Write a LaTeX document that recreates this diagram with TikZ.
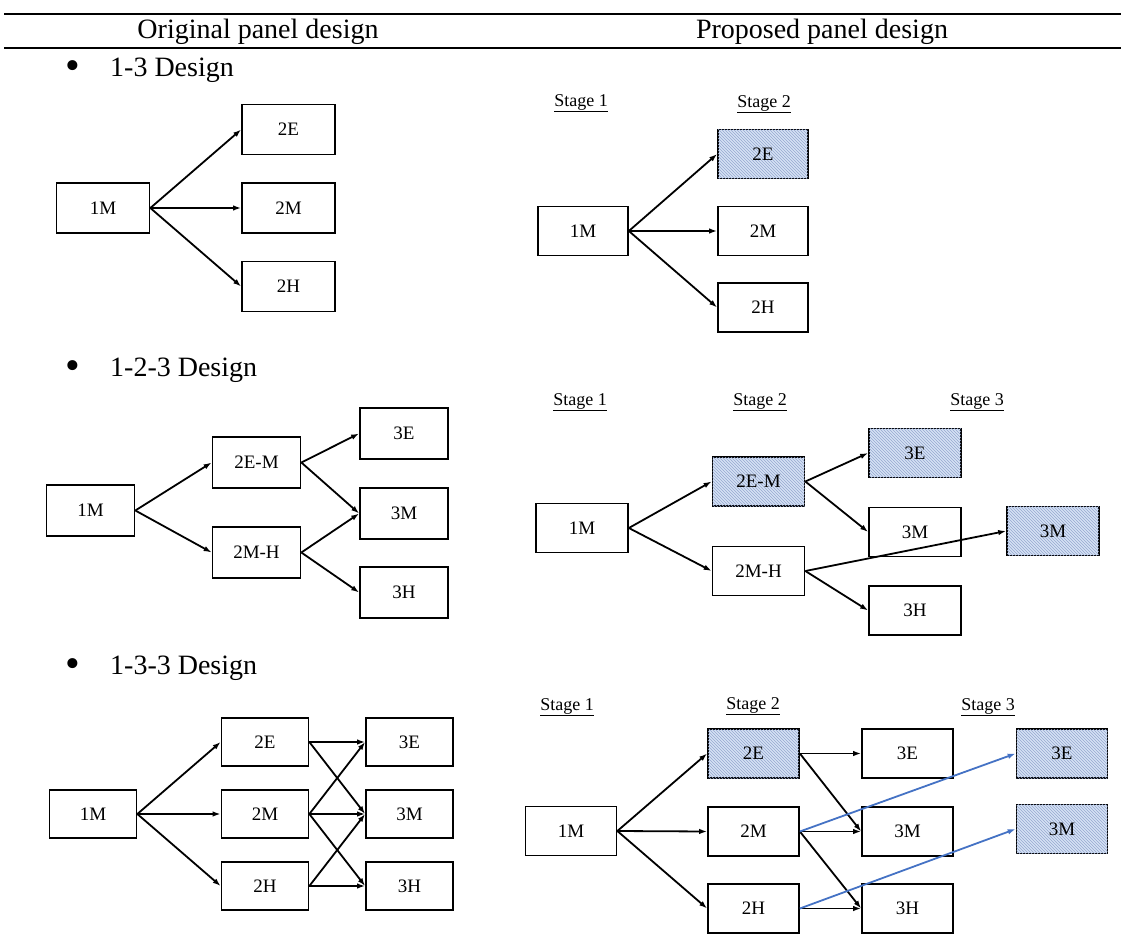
\documentclass[tikz,border=0pt]{standalone}
\usepackage{fontspec}
\setmainfont{Liberation Serif}
\usetikzlibrary{arrows.meta,patterns}
\definecolor{hatchbg}{RGB}{214,226,245}
\definecolor{hatchln}{RGB}{150,168,208}
\definecolor{bluearr}{RGB}{68,114,196}
\tikzset{
  box/.style={draw, line width=1.7pt, inner sep=0pt, fill=white,
    font=\fontsize{19}{19}\selectfont},
  hbox/.style={box, fill=hatchbg, postaction={pattern=north west lines, pattern color=hatchln}},
  arr/.style={line width=1.8pt, -{Latex[length=8pt,width=5.5pt]}},
  barr/.style={arr, draw=bluearr},
  stagelbl/.style={inner sep=0pt, font=\fontsize{18}{18}\selectfont},
  head/.style={inner sep=0pt, font=\fontsize{28}{28}\selectfont},
  bul/.style={inner sep=0pt, anchor=west, font=\fontsize{28}{28}\selectfont},
  dot/.style={inner sep=0pt, font=\fontsize{42}{42}\selectfont},
  rule/.style={line width=1.6pt}
}
\begin{document}
\begin{tikzpicture}[x=1pt,y=-1pt]
\useasboundingbox (0,0) rectangle (1121,941);
% header
\coordinate (r1a) at (4,14); \coordinate (r1b) at (1121,14);
\coordinate (r2a) at (4,48); \coordinate (r2b) at (1121,48);
\draw[rule] (r1a) -- (r1b);
\draw[rule] (r2a) -- (r2b);
\node[head] (h1) at (258,32) {Original panel design};
\node[head] (h2) at (822,32) {Proposed panel design};
% bullets
\node[dot] (d1) at (73,70) {•};
\node[bul] (b1) at (110,70) {1-3 Design};
\node[dot] (d2) at (73,370) {•};
\node[bul] (b2) at (110,370) {1-2-3 Design};
\node[dot] (d3) at (73,668) {•};
\node[bul] (b3) at (110,668) {1-3-3 Design};

% ---------- 1-3 left
\begin{scope}[every node/.append style={minimum width=93pt, minimum height=50pt}]
\node[box] (a1M) at (103,208) {1M};
\node[box] (a2E) at (288.5,129.5) {2E};
\node[box] (a2M) at (288.5,208) {2M};
\node[box] (a2H) at (288.5,286.5) {2H};
\end{scope}
\draw[arr] (a1M.east) -- (a2E.west);
\draw[arr] (a1M.east) -- (a2M.west);
\draw[arr] (a1M.east) -- (a2H.west);

% ---------- 1-3 right
\node[stagelbl] (s11) at (581,103) {\underline{Stage 1}};
\node[stagelbl] (s12) at (764,104) {\underline{Stage 2}};
\begin{scope}[every node/.append style={minimum width=90pt, minimum height=49pt}]
\node[box] (b1M) at (583,231) {1M};
\node[hbox] (b2E) at (763,154) {2E};
\node[box] (b2M) at (763,231) {2M};
\node[box] (b2H) at (763,307.5) {2H};
\end{scope}
\draw[arr] (b1M.east) -- (b2E.west);
\draw[arr] (b1M.east) -- (b2M.west);
\draw[arr] (b1M.east) -- (b2H.west);

% ---------- 1-2-3 left
\begin{scope}[every node/.append style={minimum width=88pt, minimum height=51pt}]
\node[box] (c1M) at (90.5,510.5) {1M};
\node[box] (c2EM) at (256.5,462.5) {2E-M};
\node[box] (c2MH) at (256.5,552.5) {2M-H};
\node[box] (c3E) at (404,433.5) {3E};
\node[box] (c3M) at (404,513.5) {3M};
\node[box] (c3H) at (404,592.5) {3H};
\end{scope}
\draw[arr] (c1M.east) -- (c2EM.west);
\draw[arr] (c1M.east) -- (c2MH.west);
\draw[arr] (c2EM.east) -- (c3E.west);
\draw[arr] (c2EM.east) -- (c3M.west);
\draw[arr] (c2MH.east) -- (c3M.west);
\draw[arr] (c2MH.east) -- (c3H.west);

% ---------- 1-2-3 right
\node[stagelbl] (s21) at (580,402) {\underline{Stage 1}};
\node[stagelbl] (s22) at (760,402) {\underline{Stage 2}};
\node[stagelbl] (s23) at (977,402) {\underline{Stage 3}};
\begin{scope}[every node/.append style={minimum width=92pt, minimum height=49pt}]
\node[box] (d1M) at (582,528) {1M};
\node[hbox] (d2EM) at (758.5,481.5) {2E-M};
\node[box] (d2MH) at (758.5,571) {2M-H};
\node[hbox] (d3E) at (915,453) {3E};
\node[box] (d3M) at (915,532) {3M};
\node[box] (d3H) at (915,610.5) {3H};
\node[hbox] (d3Mr) at (1053,531) {3M};
\end{scope}
\draw[arr] (d1M.east) -- (d2EM.west);
\draw[arr] (d1M.east) -- (d2MH.west);
\draw[arr] (d2EM.east) -- (d3E.west);
\draw[arr] (d2EM.east) -- (d3M.west);
\draw[arr] (d2MH.east) -- (d3H.west);
\draw[arr] (d2MH.east) -- (d3Mr.west);

% ---------- 1-3-3 left
\begin{scope}[every node/.append style={minimum width=87pt, minimum height=48pt}]
\node[box] (e1M) at (93,814) {1M};
\node[box] (e2E) at (265,742) {2E};
\node[box] (e2M) at (265,814) {2M};
\node[box] (e2H) at (265,886) {2H};
\node[box] (e3E) at (409.5,742) {3E};
\node[box] (e3M) at (409.5,814) {3M};
\node[box] (e3H) at (409.5,886) {3H};
\end{scope}
\draw[arr] (e1M.east) -- (e2E.west);
\draw[arr] (e1M.east) -- (e2M.west);
\draw[arr] (e1M.east) -- (e2H.west);
\draw[arr] (e2E.east) -- (e3E.west);
\draw[arr] (e2E.east) -- (e3M.west);
\draw[arr] (e2M.east) -- (e3E.west);
\draw[arr] (e2M.east) -- (e3M.west);
\draw[arr] (e2M.east) -- (e3H.west);
\draw[arr] (e2H.east) -- (e3M.west);
\draw[arr] (e2H.east) -- (e3H.west);

% ---------- 1-3-3 right
\node[stagelbl] (s31) at (567,707) {\underline{Stage 1}};
\node[stagelbl] (s32) at (753,706) {\underline{Stage 2}};
\node[stagelbl] (s33) at (988,707) {\underline{Stage 3}};
\begin{scope}[every node/.append style={minimum width=91pt, minimum height=49pt}]
\node[box] (f1M) at (571,831) {1M};
\node[hbox] (f2E) at (753.5,753.5) {2E};
\node[box] (f2M) at (753.5,831.5) {2M};
\node[box] (f2H) at (753.5,908.5) {2H};
\node[box] (f3E) at (907.5,753.5) {3E};
\node[box] (f3M) at (907.5,831.5) {3M};
\node[box] (f3H) at (907.5,908.5) {3H};
\node[hbox] (f3Er) at (1062,753.5) {3E};
\node[hbox] (f3Mr) at (1062,829) {3M};
\end{scope}
\draw[arr] (f1M.east) -- (f2E.west);
\draw[arr] (f1M.east) -- (f2M.west);
\draw[arr] (f1M.east) -- (f2H.west);
\draw[arr] (f2E.east) -- (f3E.west);
\draw[arr] (f2E.east) -- (f3M.west);
\draw[arr] (f2M.east) -- (f3M.west);
\draw[arr] (f2M.east) -- (f3H.west);
\draw[arr] (f2H.east) -- (f3H.west);
\draw[barr] (f2M.east) -- (f3Er.west);
\draw[barr] (f2H.east) -- (f3Mr.west);
\end{tikzpicture}
\end{document}
